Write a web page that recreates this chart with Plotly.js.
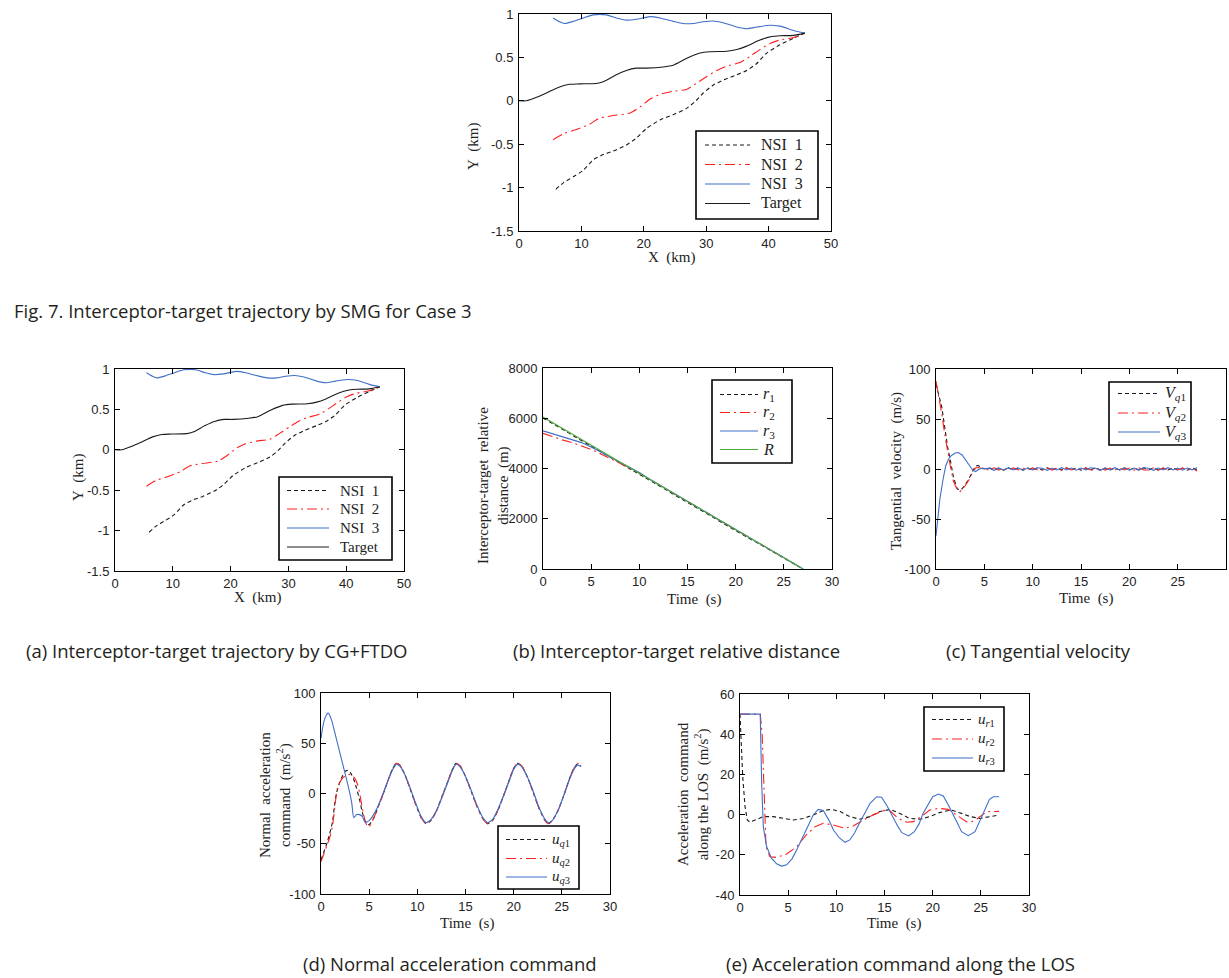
<!DOCTYPE html>
<html><head><meta charset="utf-8">
<script src="https://cdn.plot.ly/plotly-3.0.1.min.js"></script>
<style>html,body{margin:0;padding:0;background:#fff;} #chart{width:1229px;height:978px;}</style>
</head><body><div id="chart"></div>
<script>
// ---------- Trajectory data (km) : Fig.7 (SMG) and (a) (CG+FTDO) ----------
const trajNsi1X = [5.9,7.1,8.7,10.3,11.9,13.5,15.1,17.2,18.8,20.4,22.6,24.7,26.8,28.2,29.5,31.1,32.8,34.9,36.5,38.1,39.7,41.8,44,45.8];
const trajNsi1Y = [-1.02,-0.945,-0.876,-0.80,-0.68,-0.62,-0.58,-0.51,-0.43,-0.32,-0.22,-0.16,-0.09,-0.01,0.087,0.18,0.24,0.30,0.35,0.43,0.55,0.645,0.72,0.78];
const trajNsi2X = [5.45,7.1,9.2,11.3,12.9,15.1,17.8,19.4,21,22.6,24.7,26.8,28.4,30.1,31.7,33.3,35.4,37,38.6,40.2,41.8,44,45.8];
const trajNsi2Y = [-0.45,-0.38,-0.33,-0.27,-0.20,-0.17,-0.14,-0.07,0.02,0.075,0.11,0.13,0.20,0.28,0.35,0.40,0.44,0.51,0.59,0.66,0.70,0.73,0.78];
const trajNsi3X = [5.45,6.5,7.3,8.7,10.3,11.9,14,15.6,17.2,18.8,21,22.6,24.7,26.3,27.9,29.5,31.1,32.7,34.9,36.5,38.1,40.2,41.8,44,45.8];
const trajNsi3Y = [0.954,0.91,0.89,0.915,0.954,0.99,0.99,0.954,0.93,0.94,0.97,0.954,0.915,0.89,0.89,0.91,0.92,0.90,0.85,0.83,0.85,0.87,0.86,0.81,0.78];
const trajTargetX = [0,1.2,2.8,4.4,6.5,8.1,9.7,12.4,13.5,15.6,17.2,18.8,20.4,23.1,24.7,26.9,29,30.6,33.3,34.9,36.5,38.6,40.5,41.8,44,45.8];
const trajTargetY = [0,0,0.04,0.09,0.16,0.19,0.195,0.20,0.22,0.30,0.35,0.376,0.376,0.39,0.41,0.49,0.55,0.565,0.57,0.59,0.63,0.70,0.74,0.75,0.754,0.78];
const trajNames = ['NSI\u00a0\u00a01','NSI\u00a0\u00a02','NSI\u00a0\u00a03','Target'];
const trajXTicks = [0,10,20,30,40,50];
const trajXTickText = ['0','10','20','30','40','50'];
const trajYTicks = [-1.5,-1,-0.5,0,0.5,1];
const trajYTickText = ['-1.5','-1','-0.5','0','0.5','1'];

// ---------- (b) relative distance (m) ----------
const distR1T = [0,5,10,15,20,27];
const distR1V = [6010,4890,3770,2650,1530,0];
const distR2T = [0,1,2,3,4,5,6,7,8,9,10,11,27];
const distR2V = [5400,5260,5140,5030,4900,4760,4580,4400,4210,4020,3810,3585,0];
const distR3T = [0,1,2,3,4,5,6,7,8,9,10,11,27];
const distR3V = [5500,5380,5270,5160,5030,4860,4660,4460,4260,4060,3840,3590,0];
const distRT = [0,27];
const distRV = [6050,0];
const distNames = ['<i>r</i><sub>1</sub>','<i>r</i><sub>2</sub>','<i>r</i><sub>3</sub>','<i>R</i>'];
const timeTicks = [0,5,10,15,20,25,30];
const timeTickText = ['0','5','10','15','20','25','30'];
const distYTicks = [0,2000,4000,6000,8000];
const distYTickText = ['0','2000','4000','6000','8000'];

// ---------- (c) tangential velocity (m/s) ----------
const vqTailT = [5.5,6,6.5,7,7.5,8,8.5,9,9.5,10,10.5,11,11.5,12,12.5,13,13.5,14,14.5,15,15.5,16,16.5,17,17.5,18,18.5,19,19.5,20,20.5,21,21.5,22,22.5,23,23.5,24,24.5,25,25.5,26,26.5,27];
const vq1HeadT = [0,0.3,0.6,0.9,1.2,1.5,1.8,2.2,2.6,3.0,3.4,3.8,4.1,4.4,4.7,5.0];
const vq1HeadV = [85,74,62,42,22,8,-8,-20,-21,-16,-10,-2,3,3.5,1,0];
const vq1TailV = [1.2,-1,1.1,-1.2,1,-1,1.2,-1.1,1,-1.2,1.1,-1,1.2,-1,1,-1.1,1.2,-1,1.1,-1.2,1,-1,1.2,-1.1,1,-1.2,1.1,-1,1.2,-1,1,-1.1,1.2,-1,1.1,-1.2,1,-1,1.2,-1.1,1,-1.2,1.1,-1];
const vq2HeadT = [0,0.3,0.6,0.9,1.2,1.5,1.8,2.2,2.5,3.0,3.4,3.8,4.1,4.4,4.7,5.0];
const vq2HeadV = [88,72,55,35,17,2,-12,-21,-22.5,-17,-11,-3,1,1.5,0.5,0];
const vq2TailV = [-1,1.2,-1.1,1,-1.2,1.1,-1,1,-1.2,1.1,-1,-1,1.2,-1.1,1,-1.2,1.1,-1,1,-1.2,1.1,-1,-1,1.2,-1.1,1,-1.2,1.1,-1,1,-1.2,1.1,-1,-1,1.2,-1.1,1,-1.2,1.1,-1,1,-1.2,1.1,-2];
const vq3HeadT = [0,0.2,0.4,0.7,1.0,1.3,1.6,2.0,2.3,2.7,3.1,3.5,3.8,4.1,4.4,4.8,5.0];
const vq3HeadV = [-67,-48,-30,-12,3,10,13.5,16,16.5,14,9,3,-1,-2.5,-0.5,1,0.5];
const vq3TailV = [0.8,-1.3,1,-0.9,1.3,-1,0.9,-1.2,1,-0.8,1.2,0.8,-1.3,1,-0.9,1.3,-1,0.9,-1.2,1,-0.8,1.2,0.8,-1.3,1,-0.9,1.3,-1,0.9,-1.2,1,-0.8,1.2,0.8,-1.3,1,-0.9,1.3,-1,0.9,-1.2,1,-0.8,1.2];
const vqNames = ['<i>V</i><sub><i>q</i>1</sub>','<i>V</i><sub><i>q</i>2</sub>','<i>V</i><sub><i>q</i>3</sub>'];
const vqYTicks = [-100,-50,0,50,100];
const vqYTickText = ['-100','-50','0','50','100'];

// ---------- (d) normal acceleration command (m/s^2) ----------
const uq1T = [0,0.3,0.6,0.9,1.2,1.4,1.6,1.9,2.2,2.5,2.8,3.1,3.4,3.7,4.0,4.3,4.6,4.9,5.1,5.5,5.9,6.4,7.0,7.4,7.8,8.2,8.7,9.2,9.8,10.4,10.9,11.4,12.0,12.6,13.2,13.6,14.0,14.4,15.0,15.6,16.2,16.8,17.3,17.8,18.4,19.0,19.6,20.0,20.4,20.8,21.4,22.0,22.6,23.2,23.6,24.0,24.6,25.2,25.8,26.2,26.6,27.0];
const uq1V = [-66,-58,-50,-40,-28,-12,0,10,17,22,23,20,14,5,-6,-19,-28,-31,-30,-24,-14,-2,14,24,30,28,19,6,-10,-24,-30,-27,-17,-2,13,23,30,28,17,2,-13,-25,-30,-27,-16,-1,15,25,30,28,17,2,-14,-26,-30,-27,-17,-2,15,24,29,27];
const uq2T = [0,0.3,0.6,0.9,1.2,1.5,1.7,2.0,2.3,2.6,2.9,3.2,3.5,3.8,4.0,4.2,4.4,4.6,4.8,5.0,5.2,5.5,5.9,6.4,7.0,7.4,7.8,8.2,8.7,9.2,9.8,10.4,10.9,11.4,12.0,12.6,13.2,13.6,14.0,14.4,15.0,15.6,16.2,16.8,17.3,17.8,18.4,19.0,19.6,20.0,20.4,20.8,21.4,22.0,22.6,23.2,23.6,24.0,24.6,25.2,25.8,26.2,26.6,27.0];
const uq2V = [-68,-60,-52,-44,-32,-8,5,12,16,18,19,18,15,9,1,-10,-20,-28,-32,-33,-30,-24,-14,-2,14,24,30,28,19,6,-10,-24,-30,-27,-17,-2,13,23,30,28,17,2,-13,-25,-30,-27,-16,-1,15,25,30,28,17,2,-14,-26,-30,-27,-17,-2,15,24,30,28];
const uq3T = [0,0.2,0.45,0.75,1.1,1.5,2.0,2.5,2.9,3.2,3.4,3.7,4.0,4.3,4.6,4.8,5.0,5.4,5.9,6.4,7.0,7.4,7.8,8.2,8.7,9.2,9.8,10.4,10.9,11.4,12.0,12.6,13.2,13.6,14.0,14.4,15.0,15.6,16.2,16.8,17.3,17.8,18.4,19.0,19.6,20.0,20.4,20.8,21.4,22.0,22.6,23.2,23.6,24.0,24.6,25.2,25.8,26.2,26.6,27.0];
const uq3V = [55,67,76,80,73,58,39,20,4,-10,-24,-21,-21,-23,-29,-28,-27,-22,-13,-1,14,23,29,27,19,7,-9,-23,-29,-26,-17,-3,12,22,29,27,17,3,-12,-24,-29,-26,-15,-1,14,24,29,27,17,3,-13,-25,-29,-27,-17,-2,14,23,28,27];
const uqNames = ['<i>u</i><sub><i>q</i>1</sub>','<i>u</i><sub><i>q</i>2</sub>','<i>u</i><sub><i>q</i>3</sub>'];
const uqYTicks = [-100,-50,0,50,100];
const uqYTickText = ['-100','-50','0','50','100'];

// ---------- (e) acceleration command along the LOS (m/s^2) ----------
const ur1T = [0,0.05,0.1,0.28,0.52,0.76,1.04,1.56,2.42,3.46,4.5,5.5,6.6,7.6,8.64,9.5,10.4,11.4,12.4,13.5,14.5,15.6,16.6,17.6,18.7,19.7,20.7,21.9,23.0,23.9,24.9,25.9,26.9];
const ur1V = [50,44,35,19,4,-2.7,-3.8,-2.7,-1,-1,-1.9,-2.7,-1.9,-0.2,2,2.6,1.5,-1,-2.3,-1,1.5,2.6,0.6,-1.9,-2.3,-1,1,2.3,0.6,-1,-1.9,-1,-0.2];
const ur2T = [0,2.1,2.3,2.5,2.7,3.1,3.8,4.84,5.88,6.9,7.8,8.64,9.7,10.9,11.75,12.8,13.8,14.9,15.6,16.4,17.3,18.0,18.8,19.7,20.6,21.6,22.5,23.5,24.0,24.7,25.6,26.9];
const ur2V = [50,50,40,12,-16,-21,-21.3,-19.6,-16,-10,-6,-4.3,-5.2,-6.8,-5.7,-2.7,-0.2,2,1.8,-1.8,-3.8,-3.5,-1,2.3,3.1,2.6,-0.2,-3.5,-3.7,-1.8,1.5,1.6];
const ur3T = [0,2.1,2.25,2.42,2.77,3.28,3.8,4.32,4.84,5.4,5.88,6.4,6.9,7.6,8.12,8.64,9.2,9.7,10.3,10.9,11.4,11.9,12.4,13.0,13.5,14.2,14.7,15.3,15.9,16.4,16.8,17.5,18.1,18.6,19.0,19.5,20.0,20.6,21.1,21.6,22.1,22.6,23.0,23.7,24.4,24.8,25.2,25.6,25.9,26.3,26.9];
const ur3V = [50,50,15.6,-6,-16,-21.8,-24.5,-25.6,-25,-22,-17.6,-12.5,-7.7,-0.2,2.6,2,-2.5,-7.7,-11.5,-13.8,-12.6,-9,-4.3,1,5.6,8.9,8.6,4,-1.8,-6,-9,-10.6,-8.5,-4.5,0.6,5,8.9,10.2,9.3,5,-0.2,-4.5,-8.5,-10.5,-8.5,-4,0.6,4.5,7.6,8.9,8.9];
const urNames = ['<i>u</i><sub><i>r</i>1</sub>','<i>u</i><sub><i>r</i>2</sub>','<i>u</i><sub><i>r</i>3</sub>'];
const urYTicks = [-40,-20,0,20,40,60];
const urYTickText = ['-40','-20','0','20','40','60'];

// ---------- captions & axis titles ----------
const captions = [
  'Fig. 7. Interceptor-target trajectory by SMG for Case 3',
  '(a) Interceptor-target trajectory by CG+FTDO',
  '(b) Interceptor-target relative distance',
  '(c) Tangential velocity',
  '(d) Normal acceleration command',
  '(e) Acceleration command along the LOS'
];
const xTitleKm = 'X\u00a0\u00a0(km)';
const yTitleKm = 'Y\u00a0\u00a0(km)';
const xTitleTime = 'Time\u00a0\u00a0(s)';
const yTitleDist = 'Interceptor-target\u00a0\u00a0relative<br>distance\u00a0\u00a0(m)';
const yTitleVq = 'Tangential\u00a0\u00a0velocity\u00a0\u00a0(m/s)';
const yTitleUq = 'Normal\u00a0\u00a0acceleration<br>command\u00a0\u00a0(m/s<sup>2</sup>)';
const yTitleUr = 'Acceleration\u00a0\u00a0command<br>along\u00a0the\u00a0LOS\u00a0\u00a0(m/s<sup>2</sup>)';

// ---------- build ----------
const W = 1229, H = 978;
const fx = p => p / W, fy = p => 1 - p / H;
const BLUE = '#3f6fc9', RED = '#ff1f1f', GREEN = '#4dab3a', BLACK = '#1a1a1a';
const DASH = '4px,3px', DASHDOT = '10px,4px,2px,4px';
const SERIF = 'Liberation Serif, Times New Roman, serif';
const SANS = 'Liberation Sans, Arial, sans-serif';

const traces = [];
const legendEntries = {1: [], 2: [], 3: [], 4: [], 5: [], 6: []};
function addLine(n, x, y, name, color, dash, shape) {
  const s = n > 1 ? String(n) : '';
  traces.push({
    type: 'scatter', mode: 'lines', x: x, y: y, name: name,
    xaxis: 'x' + s, yaxis: 'y' + s, showlegend: false,
    line: {color: color, width: 1.1, dash: dash || 'solid', shape: shape || 'linear', smoothing: 0.6},
    hoverinfo: 'skip'
  });
  legendEntries[n].push({name: name, color: color, dash: dash || 'solid'});
}
const cat = (a, b) => a.concat(b);

[1, 2].forEach(n => {
  addLine(n, trajNsi1X, trajNsi1Y, trajNames[0], BLACK, DASH, 'spline');
  addLine(n, trajNsi2X, trajNsi2Y, trajNames[1], RED, DASHDOT, 'spline');
  addLine(n, trajNsi3X, trajNsi3Y, trajNames[2], BLUE, 'solid', 'spline');
  addLine(n, trajTargetX, trajTargetY, trajNames[3], BLACK, 'solid', 'spline');
});
addLine(3, distR1T, distR1V, distNames[0], BLACK, DASH);
addLine(3, distR2T, distR2V, distNames[1], RED, DASHDOT);
addLine(3, distR3T, distR3V, distNames[2], BLUE);
addLine(3, distRT, distRV, distNames[3], GREEN);
addLine(4, cat(vq1HeadT, vqTailT), cat(vq1HeadV, vq1TailV), vqNames[0], BLACK, DASH);
addLine(4, cat(vq2HeadT, vqTailT), cat(vq2HeadV, vq2TailV), vqNames[1], RED, DASHDOT);
addLine(4, cat(vq3HeadT, vqTailT), cat(vq3HeadV, vq3TailV), vqNames[2], BLUE);
addLine(5, uq1T, uq1V, uqNames[0], BLACK, DASH, 'spline');
addLine(5, uq2T, uq2V, uqNames[1], RED, DASHDOT, 'spline');
addLine(5, uq3T, uq3V, uqNames[2], BLUE, 'solid', 'spline');
addLine(6, ur1T, ur1V, urNames[0], BLACK, DASH);
addLine(6, ur2T, ur2V, urNames[1], RED, DASHDOT);
addLine(6, ur3T, ur3V, urNames[2], BLUE);

const layout = {
  width: W, height: H, margin: {l: 0, r: 0, t: 0, b: 0},
  paper_bgcolor: '#fff', plot_bgcolor: '#fff', showlegend: false,
  annotations: [], shapes: [], font: {family: SANS, color: '#222'}
};
// panel boxes in px: [x0, x1, y0, y1]; legend: box [x0,y0,x1,y1], line x0,x1, text x, entry ys, font size
const panels = [
  {box: [519, 831, 14, 231], xr: [0, 50], yr: [-1.5, 1], xt: trajXTicks, xtt: trajXTickText, yt: trajYTicks, ytt: trajYTickText,
   leg: {box: [696, 131, 818, 219], lx: [705, 750], tx: 759, ys: [145, 164.5, 184, 203.5], fs: 16}},
  {box: [115, 404, 369, 571], xr: [0, 50], yr: [-1.5, 1], xt: trajXTicks, xtt: trajXTickText, yt: trajYTicks, ytt: trajYTicks.map(String) && trajYTickText,
   leg: {box: [279, 477, 392, 560], lx: [287, 329], tx: 338, ys: [490.5, 509, 528, 547], fs: 15}},
  {box: [543, 832, 368, 569], xr: [0, 30], yr: [0, 8000], xt: timeTicks, xtt: timeTickText, yt: distYTicks, ytt: distYTickText,
   leg: {box: [712, 380, 792, 463], lx: [720, 758], tx: 761, ys: [394.5, 412.5, 431, 449.5], fs: 16}},
  {box: [936, 1226, 369, 569], xr: [0, 30], yr: [-100, 100], xt: timeTicks, xtt: timeTickText, yt: vqYTicks, ytt: vqYTickText,
   leg: {box: [1109, 382, 1191, 445], lx: [1118, 1160], tx: 1163, ys: [393.5, 413, 432], fs: 16}},
  {box: [321, 610, 693, 894], xr: [0, 30], yr: [-100, 100], xt: timeTicks, xtt: timeTickText, yt: uqYTicks, ytt: uqYTickText,
   leg: {box: [498, 826, 579, 889], lx: [506, 547], tx: 550, ys: [839.5, 858.5, 877], fs: 15}},
  {box: [740, 1029, 694, 895], xr: [0, 30], yr: [-40, 60], xt: timeTicks, xtt: timeTickText, yt: urYTicks, ytt: urYTickText,
   leg: {box: [924, 707, 1004, 771], lx: [932, 973], tx: 976, ys: [719.5, 739, 758], fs: 15}}
];

function ann(text, x, y, opts) {
  layout.annotations.push(Object.assign({
    text: text, x: fx(x), y: fy(y), xref: 'paper', yref: 'paper', showarrow: false,
    xanchor: 'center', yanchor: 'middle', font: {family: SERIF, size: 15, color: '#222'}
  }, opts || {}));
}

panels.forEach((p, i) => {
  const n = i + 1;
  const s = i > 0 ? String(n) : '';
  const common = {
    showline: true, mirror: 'ticks', linecolor: '#000', linewidth: 1,
    ticks: 'inside', ticklen: 5, tickwidth: 1, tickcolor: '#000',
    showgrid: false, zeroline: false, fixedrange: true, tickmode: 'array',
    tickfont: {family: SANS, size: 13, color: '#222'}
  };
  layout['xaxis' + s] = Object.assign({}, common, {
    domain: [fx(p.box[0]), fx(p.box[1])], range: p.xr, tickvals: p.xt, ticktext: p.xtt,
    anchor: 'y' + s, ticklabelstandoff: 0
  });
  layout['yaxis' + s] = Object.assign({}, common, {
    domain: [fy(p.box[3]), fy(p.box[2])], range: p.yr, tickvals: p.yt, ticktext: p.ytt,
    anchor: 'x' + s, ticklabelstandoff: 2
  });
  // legend box (drawn on top of the plot area)
  const L = p.leg;
  layout.shapes.push({type: 'rect', xref: 'paper', yref: 'paper', layer: 'above',
    x0: fx(L.box[0]), x1: fx(L.box[2]), y0: fy(L.box[3]), y1: fy(L.box[1]),
    fillcolor: '#fff', line: {color: '#000', width: 1.6}});
  legendEntries[n].forEach((e, k) => {
    layout.shapes.push({type: 'line', xref: 'paper', yref: 'paper', layer: 'above',
      x0: fx(L.lx[0]), x1: fx(L.lx[1]), y0: fy(L.ys[k]), y1: fy(L.ys[k]),
      line: {color: e.color, width: 1.1, dash: e.dash}});
    ann(e.name, L.tx, L.ys[k], {xanchor: 'left', font: {family: SERIF, size: L.fs, color: '#222'}});
  });
});

// axis titles
ann(xTitleKm, 672, 257);
ann(yTitleKm, 473, 146, {textangle: -90});
ann(xTitleKm, 258, 597);
ann(yTitleKm, 78, 477, {textangle: -90});
ann(xTitleTime, 694, 599);
ann(yTitleDist, 493, 486, {textangle: -90});
ann(xTitleTime, 1086, 598);
ann(yTitleVq, 896, 471, {textangle: -90});
ann(xTitleTime, 467, 923);
ann(yTitleUq, 275, 795, {textangle: -90});
ann(xTitleTime, 894, 923);
ann(yTitleUr, 693, 794, {textangle: -90});
// captions
const capFont = {family: 'Open Sans, Noto Sans, sans-serif', size: 18.5, color: '#231f20'};
ann(captions[0], 12, 310, {xanchor: 'left', font: capFont});
ann(captions[1], 216, 650, {font: capFont});
ann(captions[2], 676, 650, {font: capFont});
ann(captions[3], 1038, 650, {font: capFont});
ann(captions[4], 450, 963, {font: capFont});
ann(captions[5], 900, 963, {font: capFont});

Plotly.newPlot('chart', traces, layout, {staticPlot: true, displayModeBar: false});
</script>
</body></html>
